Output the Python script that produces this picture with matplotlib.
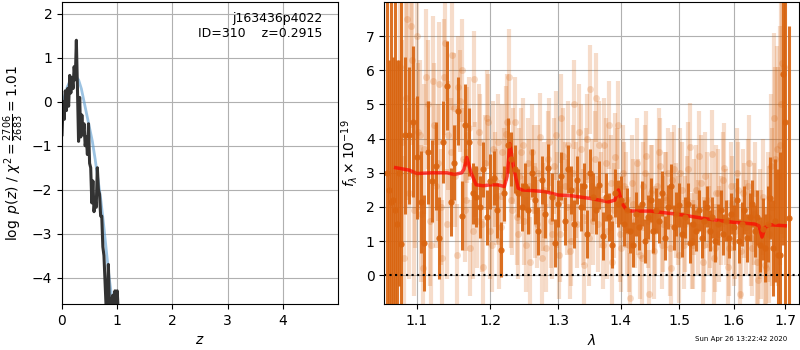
import matplotlib
matplotlib.use('Agg')
import matplotlib.pyplot as plt
from matplotlib.ticker import FixedLocator, FixedFormatter, NullLocator

# p(z) curve
z_grid = [0.00, 0.02, 0.04, 0.06, 0.08, 0.10, 0.12, 0.14, 0.16, 0.18, 0.20, 0.22, 0.24, 0.26,
          0.28, 0.30, 0.32, 0.34, 0.36, 0.38, 0.40, 0.42, 0.44, 0.46, 0.48, 0.50, 0.52, 0.54,
          0.56, 0.58, 0.60, 0.62, 0.64, 0.66, 0.68, 0.70, 0.72, 0.74, 0.76, 0.78, 0.80, 0.82,
          0.84, 0.86, 0.88, 0.90, 0.92, 0.94, 0.96, 0.98, 1.00, 1.02]
logpz = [-0.75, 0.0, -0.4, 0.25, -0.2, 0.3, -0.1, 0.6, 0.2, 0.55, 0.3, 0.8, 0.5, 1.4,
         0.3, -0.9, 0.1, -0.8, -0.3, -0.75, -0.5, -1.0, -0.8, -1.2, -0.5, -1.4, -1.5, -2.3,
         -1.8, -2.5, -2.2, -2.4, -1.5, -2.0, -2.1, -2.6, -2.6, -3.3, -3.5, -4.1, -4.7, -4.7,
         -3.7, -4.7, -4.8, -4.5, -4.4, -4.7, -4.3, -4.7, -4.3, -4.8]

z_smooth = [0.0, 0.05, 0.1, 0.15, 0.2, 0.25, 0.3, 0.35, 0.4, 0.45, 0.5, 0.55, 0.6, 0.65,
            0.7, 0.75, 0.8, 0.85, 0.9, 0.93]
logpz_smooth = [-0.1, 0.15, 0.35, 0.48, 0.56, 0.57, 0.5, 0.3, 0.0, -0.3, -0.6, -0.9, -1.3, -1.75,
                -2.2, -2.75, -3.35, -3.95, -4.45, -4.7]

# spectrum, combined points
wave_d = [1.062, 1.064, 1.067, 1.070, 1.072, 1.075, 1.077, 1.080, 1.085, 1.090, 1.095, 1.100,
          1.105, 1.110, 1.115, 1.120, 1.125, 1.130, 1.135, 1.140, 1.145, 1.150, 1.155, 1.160,
          1.165, 1.170, 1.175, 1.180, 1.185, 1.190, 1.195, 1.200, 1.205, 1.210, 1.215, 1.220,
          1.225, 1.230, 1.235, 1.240, 1.245, 1.250, 1.255, 1.260, 1.265, 1.270, 1.275, 1.280,
          1.285, 1.290, 1.295, 1.300, 1.305, 1.310, 1.315, 1.320, 1.325, 1.330, 1.335, 1.340,
          1.345, 1.350, 1.355, 1.360, 1.365, 1.370, 1.375, 1.380, 1.385, 1.390, 1.395, 1.400,
          1.405, 1.410, 1.415, 1.420, 1.425, 1.430, 1.435, 1.440, 1.445, 1.450, 1.455, 1.460,
          1.465, 1.470, 1.475, 1.480, 1.485, 1.490, 1.495, 1.500, 1.505, 1.510, 1.515, 1.520,
          1.525, 1.530, 1.535, 1.540, 1.545, 1.550, 1.555, 1.560, 1.565, 1.570, 1.575, 1.580,
          1.585, 1.590, 1.595, 1.600, 1.605, 1.610, 1.615, 1.620, 1.625, 1.630, 1.635, 1.640,
          1.645, 1.650, 1.655, 1.660, 1.665, 1.670, 1.675, 1.680, 1.685, 1.690, 1.695, 1.700,
          1.708]
flux_d = [3.0, 2.5, 2.15, 2.2, 1.9, 1.5, 3.0, 0.93, 4.1, 4.1, 4.5, 3.45,
          2.15, 0.95, 3.6, 2.75, 3.2, 1.1, 3.9, 5.55, 2.15, 3.3, 4.8, 1.75,
          4.4, 3.9, 2.4, 2.3, 2.0, 3.1, 1.7, 2.75, 2.85, 1.9, 0.75, 2.4,
          3.8, 3.4, 3.1, 2.4, 2.0, 2.6, 1.9, 3.0, 2.2, 1.3, 2.8, 1.8,
          3.15, 2.3, 0.95, 2.1, 2.9, 1.6, 3.1, 2.5, 1.5, 2.8, 2.0, 2.6,
          1.2, 3.0, 2.3, 1.9, 2.65, 1.15, 2.3, 1.7, 0.9, 2.4, 2.1, 2.2,
          1.5, 1.9, 1.3, 0.9, 1.8, 1.4, 2.1, 1.0, 1.7, 2.2, 1.3, 1.9,
          1.6, 2.4, 1.1, 2.0, 2.6, 1.4, 1.8, 2.05, 1.2, 1.7, 2.1, 0.95,
          1.5, 1.3, 1.9, 1.1, 1.6, 2.0, 1.3, 1.7, 1.0, 1.5, 1.9, 1.2,
          1.6, 1.1, 1.8, 1.4, 2.2, 1.0, 1.5, 1.9, 1.1, 1.7, 2.1, 1.3,
          1.7, 0.9, 1.35, 0.8, 1.5, 2.25, 0.8, 1.6, 0.6, 0.6, 5.9, 4.5,
          1.69]
err_d = [9.0, 3.8, 9.0, 4.2, 9.0, 4.8, 3.3, 8.0, 2.3, 2.0, 2.2, 1.8,
         1.5, 1.4, 1.5, 1.2, 1.3, 1.2, 1.2, 1.3, 1.0, 1.1, 1.0, 1.0,
         1.2, 1.0, 0.9, 0.9, 0.9, 0.8, 0.8, 0.8, 0.8, 0.8, 0.8, 0.8,
         0.8, 0.8, 0.7, 0.7, 0.7, 0.7, 0.7, 0.7, 0.7, 0.7, 0.7, 0.7,
         0.7, 0.7, 0.7, 0.7, 0.7, 0.7, 0.7, 0.7, 0.7, 0.7, 0.7, 0.7,
         0.7, 0.7, 0.7, 0.7, 0.7, 0.7, 0.7, 0.7, 0.7, 0.7, 0.7, 0.7,
         0.65, 0.65, 0.65, 0.65, 0.65, 0.65, 0.65, 0.65, 0.65, 0.65, 0.65, 0.65,
         0.65, 0.65, 0.65, 0.65, 0.65, 0.65, 0.65, 0.65, 0.65, 0.6, 0.6, 0.6,
         0.6, 0.6, 0.6, 0.6, 0.6, 0.6, 0.6, 0.6, 0.6, 0.6, 0.6, 0.6,
         0.6, 0.6, 0.6, 0.65, 0.65, 0.65, 0.65, 0.7, 0.7, 0.7, 0.7, 0.75,
         0.8, 0.8, 0.9, 1.0, 1.1, 1.2, 1.4, 1.8, 2.5, 3.0, 5.0, 8.0,
         5.6]

# spectrum, individual beams (faint)
wave_l = [1.078, 1.083, 1.088, 1.092, 1.096, 1.100, 1.104, 1.108, 1.112, 1.117, 1.121, 1.125,
          1.130, 1.134, 1.138, 1.142, 1.147, 1.151, 1.155, 1.160, 1.164, 1.168, 1.172, 1.177,
          1.181, 1.186, 1.190, 1.195, 1.199, 1.204, 1.208, 1.213, 1.217, 1.222, 1.226, 1.231,
          1.235, 1.240, 1.244, 1.249, 1.254, 1.258, 1.263, 1.268, 1.272, 1.277, 1.282, 1.286,
          1.291, 1.296, 1.301, 1.305, 1.310, 1.315, 1.320, 1.325, 1.330, 1.335, 1.340, 1.345,
          1.350, 1.355, 1.360, 1.365, 1.370, 1.375, 1.380, 1.386, 1.391, 1.396, 1.401, 1.406,
          1.411, 1.416, 1.421, 1.427, 1.432, 1.437, 1.442, 1.448, 1.453, 1.458, 1.464, 1.469,
          1.475, 1.480, 1.486, 1.491, 1.497, 1.502, 1.508, 1.513, 1.519, 1.525, 1.530, 1.536,
          1.542, 1.547, 1.553, 1.559, 1.564, 1.570, 1.576, 1.582, 1.588, 1.594, 1.600, 1.605,
          1.611, 1.617, 1.623, 1.629, 1.635, 1.641, 1.647, 1.653, 1.659, 1.665, 1.671, 1.677,
          1.683, 1.689, 1.694, 1.698]
flux_l = [6.1, 0.5, 7.5, 7.3, 1.9, 7.0, 4.1, 0.2, 5.8, 1.6, 5.7, 2.6,
          5.6, 0.5, 6.8, 4.1, 6.45, 2.9, 5.5, 6.0, 1.9, 4.1, 0.8, 5.75,
          1.6, 3.9, 0.25, 4.6, 1.3, 3.7, 2.3, 1.0, 3.6, 4.15, 5.8, 1.9,
          4.5, 1.2, 3.6, 1.6, 3.3, 0.4, 3.1, 1.5, 4.05, 2.0, 0.8, 3.9,
          1.2, 4.1, 0.6, 4.6, 2.6, 3.8, 1.0, 5.0, 1.5, 3.7, 0.3, 4.0,
          5.45, 1.6, 5.2, 3.8, 0.9, 3.3, 4.4, 0.4, 3.45, 4.4, 0.8, 2.6,
          1.3, -0.65, 2.1, 3.3, 0.6, 2.6, 3.5, -0.55, 2.5, 1.3, 3.6, 0.9,
          2.3, 3.0, 0.2, 3.1, 1.6, 3.0, 0.9, 2.2, 3.75, 0.9, 2.5, 3.5,
          0.4, 2.9, 1.3, 3.55, 0.8, 2.4, 1.6, 3.15, 0.25, 2.6, 1.0, 3.0,
          -0.55, 2.4, 1.4, 3.3, 0.8, 2.4, -0.15, 0.9, 0.3, 1.7, 3.2, 4.6,
          3.7, 3.8, 6.2, 6.1]
err_l = [4.0, 3.0, 3.0, 3.0, 2.5, 3.0, 2.2, 2.0, 2.0, 1.9, 1.9, 1.8,
         1.8, 1.7, 1.7, 1.6, 1.6, 1.5, 1.5, 1.5, 1.5, 1.4, 1.4, 1.4,
         1.4, 1.4, 1.4, 1.4, 1.4, 1.4, 1.4, 1.4, 1.4, 1.4, 1.4, 1.3,
         1.3, 1.3, 1.3, 1.3, 1.3, 1.3, 1.3, 1.3, 1.3, 1.3, 1.3, 1.3,
         1.3, 1.3, 1.3, 1.3, 1.3, 1.3, 1.3, 1.3, 1.3, 1.3, 1.3, 1.3,
         1.3, 1.3, 1.3, 1.3, 1.3, 1.3, 1.3, 1.3, 1.3, 1.3, 1.3, 1.3,
         1.3, 1.3, 1.3, 1.3, 1.3, 1.3, 1.3, 1.3, 1.3, 1.3, 1.3, 1.3,
         1.3, 1.3, 1.3, 1.3, 1.3, 1.3, 1.3, 1.3, 1.3, 1.3, 1.3, 1.3,
         1.3, 1.3, 1.3, 1.3, 1.3, 1.3, 1.3, 1.3, 1.3, 1.3, 1.3, 1.3,
         1.3, 1.3, 1.4, 1.4, 1.4, 1.5, 1.5, 1.6, 1.7, 1.9, 2.1, 2.5,
         3.0, 3.5, 4.0, 5.0]

wave_l2 = [1.081, 1.086, 1.090, 1.094, 1.098, 1.102, 1.106, 1.110, 1.115, 1.119, 1.123, 1.128,
           1.132, 1.136, 1.140, 1.145, 1.149, 1.153, 1.158, 1.162, 1.166, 1.170, 1.175, 1.179,
           1.184, 1.188, 1.193, 1.197, 1.202, 1.206, 1.211, 1.215, 1.220, 1.224, 1.229, 1.233,
           1.238, 1.242, 1.247, 1.251, 1.256, 1.261, 1.265, 1.270, 1.275, 1.279, 1.284, 1.289,
           1.293, 1.298, 1.303, 1.308, 1.313, 1.318, 1.323, 1.328, 1.333, 1.338, 1.343, 1.348,
           1.353, 1.358, 1.363, 1.368, 1.373, 1.378, 1.383, 1.388, 1.393, 1.398, 1.404, 1.409,
           1.414, 1.419, 1.424, 1.429, 1.435, 1.440, 1.445, 1.450, 1.456, 1.461, 1.467, 1.472,
           1.477, 1.483, 1.488, 1.494, 1.499, 1.505, 1.511, 1.516, 1.522, 1.527, 1.533, 1.539,
           1.544, 1.550, 1.556, 1.562, 1.567, 1.573, 1.579, 1.585, 1.591, 1.597, 1.603, 1.608,
           1.614, 1.620, 1.626, 1.632, 1.638, 1.644, 1.650, 1.656, 1.662, 1.668, 1.674, 1.680,
           1.686, 1.692]
flux_l2 = [3.9, 5.2, 2.4, 6.3, 3.0, 4.2, 1.8, 3.7, 5.0, 0.9, 4.4, 3.3,
           2.0, 5.8, 1.5, 3.6, 4.9, 0.6, 5.1, 3.4, 2.2, 4.3, 1.3, 3.1,
           4.2, 1.5, 3.3, 4.5, 0.9, 2.8, 3.9, 1.4, 2.9, 4.5, 2.2, 3.5,
           1.7, 2.9, 3.8, 0.9, 2.6, 3.6, 1.9, 3.0, 0.5, 2.5, 3.4, 1.6,
           3.2, 2.2, 1.2, 3.5, 2.0, 0.7, 3.0, 2.5, 4.2, 1.7, 2.9, 1.1,
           2.6, 3.4, 1.5, 2.2, 3.8, 1.3, 2.7, 1.9, 2.9, 1.2, 3.0, 2.2,
           0.9, 2.7, 1.6, 2.0, 0.5, 3.0, 1.6, 2.4, 0.7, 2.6, 3.2, 1.5,
           2.2, 0.8, 2.8, 1.9, 0.6, 2.5, 1.5, 3.1, 1.0, 2.0, 1.4, 2.7,
           0.9, 2.2, 1.6, 0.5, 2.4, 1.2, 2.8, 1.7, 0.8, 2.1, 1.3, 2.5,
           0.7, 1.9, 2.6, 1.1, 1.8, 0.4, 1.5, 2.3, 0.2, 1.2, 2.0, 3.4,
           2.9, 5.0]
err_l2 = [3.0, 3.0, 2.5, 2.5, 2.2, 2.0, 2.0, 1.9, 1.9, 1.8, 1.8, 1.7,
          1.7, 1.7, 1.6, 1.6, 1.6, 1.5, 1.5, 1.5, 1.5, 1.5, 1.4, 1.4,
          1.4, 1.4, 1.4, 1.4, 1.4, 1.4, 1.4, 1.4, 1.4, 1.4, 1.4, 1.4,
          1.4, 1.4, 1.4, 1.4, 1.4, 1.4, 1.4, 1.4, 1.4, 1.4, 1.4, 1.4,
          1.4, 1.4, 1.4, 1.4, 1.4, 1.4, 1.4, 1.4, 1.4, 1.4, 1.4, 1.4,
          1.4, 1.4, 1.4, 1.4, 1.4, 1.4, 1.4, 1.4, 1.4, 1.4, 1.4, 1.4,
          1.4, 1.4, 1.4, 1.4, 1.4, 1.4, 1.4, 1.4, 1.4, 1.4, 1.4, 1.4,
          1.4, 1.4, 1.4, 1.4, 1.4, 1.4, 1.4, 1.4, 1.4, 1.4, 1.4, 1.4,
          1.4, 1.4, 1.4, 1.4, 1.4, 1.4, 1.4, 1.4, 1.4, 1.4, 1.4, 1.4,
          1.4, 1.4, 1.4, 1.4, 1.5, 1.5, 1.6, 1.7, 1.8, 2.0, 2.3, 2.7,
          3.2, 3.8]

# best-fit model
wave_m = [1.073, 1.09, 1.10, 1.12, 1.14, 1.15, 1.16, 1.163, 1.167, 1.173, 1.18, 1.19, 1.20,
          1.21, 1.22, 1.224, 1.228, 1.233, 1.24, 1.245, 1.26, 1.28, 1.30, 1.32, 1.35, 1.38,
          1.39, 1.396, 1.402, 1.41, 1.42, 1.45, 1.50, 1.55, 1.60, 1.64, 1.648, 1.654, 1.66,
          1.67, 1.70]
flux_m = [3.15, 3.08, 2.98, 3.0, 3.0, 2.95, 3.0, 3.1, 3.45, 3.0, 2.65, 2.62, 2.65,
          2.65, 2.6, 2.9, 3.85, 3.2, 2.55, 2.5, 2.48, 2.45, 2.35, 2.33, 2.25, 2.15,
          2.2, 2.5, 2.1, 1.9, 1.88, 1.88, 1.78, 1.65, 1.55, 1.5, 1.45, 1.12, 1.4,
          1.48, 1.45]

xticks = [1.1, 1.2, 1.3, 1.4, 1.5, 1.6, 1.7]

orange = '#d9640f'

fig = plt.figure(figsize=(8, 3.5), dpi=100)
ax1 = fig.add_axes([0.0775, 0.1314, 0.345, 0.8629])
ax2 = fig.add_axes([0.4804, 0.1314, 0.5184, 0.8629])

# left: p(z)
ax1.plot(z_smooth, logpz_smooth, color='#5a9bd0', alpha=0.6, lw=2)
ax1.plot(z_grid, logpz, color='0.2', lw=2.2)
ax1.set_xlim(0, 5.0)
ax1.set_ylim(-4.6, 2.27)
ax1.set_xticks([0, 1, 2, 3, 4])
ax1.set_yticks([-4, -3, -2, -1, 0, 1, 2])
ax1.grid(True)
ax1.set_xlabel('$z$')
ax1.set_ylabel(r'$\log\ p(z)$ / $\chi^2=\frac{2706}{2683}=1.01$')
ax1.text(0.945, 0.968, 'j163436p4022\nID=310    z=0.2915', transform=ax1.transAxes,
         ha='right', va='top', fontsize=9)

# right: spectrum
for w, f, e in [(wave_l, flux_l, err_l), (wave_l2, flux_l2, err_l2)]:
    ax2.errorbar(w, f, yerr=e, fmt='o', color=orange, alpha=0.22,
                 ms=5, elinewidth=3, capsize=0, mew=0)
ax2.errorbar(wave_d, flux_d, yerr=err_d, fmt='o', color=orange, alpha=0.9,
             ms=4.5, elinewidth=2.2, capsize=0, mew=0)
ax2.plot(wave_m, flux_m, color='r', alpha=0.7, lw=2.5)
ax2.axhline(0, color='k', ls=':', lw=1.5)
ax2.set_xscale('log')
ax2.set_xlim(1.0587, 1.728)
ax2.set_ylim(-0.84, 8.0)
ax2.xaxis.set_major_locator(FixedLocator(xticks))
ax2.xaxis.set_major_formatter(FixedFormatter(['%.1f' % t for t in xticks]))
ax2.xaxis.set_minor_locator(NullLocator())
ax2.set_yticks([0, 1, 2, 3, 4, 5, 6, 7])
ax2.grid(True)
ax2.set_xlabel(r'$\lambda$')
ax2.set_ylabel(r'$f_\lambda\times10^{-19}$')

fig.text(0.927, 0.031, 'Sun Apr 26 13:22:42 2020', ha='center', va='center', fontsize=5)

fig.savefig('out.png', dpi=100)
